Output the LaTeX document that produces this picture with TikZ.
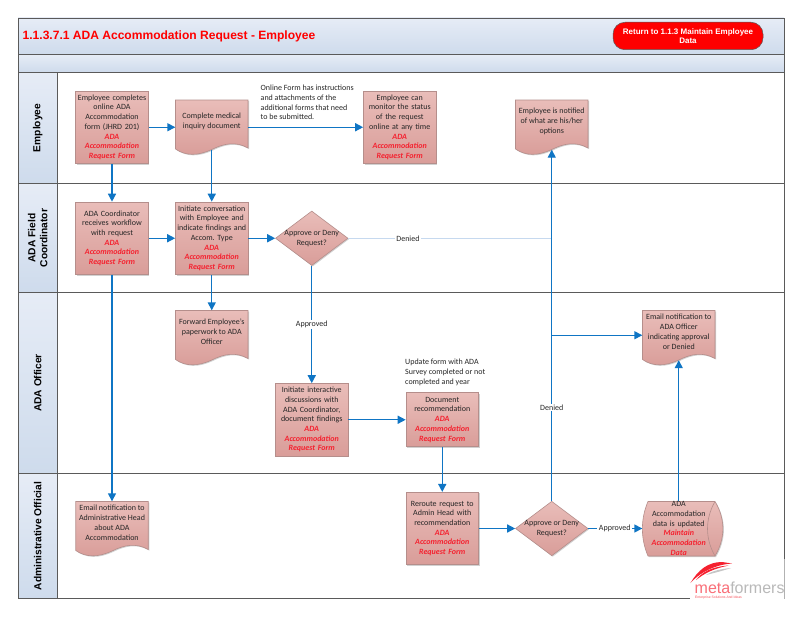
\documentclass[tikz,border=0pt]{standalone}
\usepackage{fontspec}
\setmainfont{Carlito}
\newfontfamily\headfont{Liberation Sans}
\usetikzlibrary{arrows.meta,shapes.geometric,shadows}
\frenchspacing

\definecolor{boxtop}{HTML}{E9BDB9}
\definecolor{boxbot}{HTML}{D99D99}
\definecolor{boxline}{HTML}{B58E8B}
\definecolor{flowblue}{HTML}{0F75C4}
\definecolor{paleblue}{HTML}{C6D9EF}
\definecolor{frameline}{HTML}{5A5A5A}
\definecolor{bandtop}{HTML}{E6ECF6}
\definecolor{bandbot}{HTML}{CEDBEC}
\definecolor{formred}{HTML}{F5212F}

\tikzset{
  boxshade/.style={top color=boxtop, bottom color=boxbot, draw=boxline, line width=.6pt,
    drop shadow={shadow xshift=1pt, shadow yshift=-1pt, opacity=.18, fill=black}},
  boxtext/.style={inner sep=0pt, align=center, text=black!85, font=\fontsize{8}{9.7}\selectfont},
  procbox/.style={boxshade, boxtext, text width=72.5pt, minimum height=72.5pt},
  decbox/.style={diamond, aspect=1.33, boxshade, boxtext, minimum width=72.5pt, minimum height=54.5pt},
  dochold/.style={boxtext},
  flow/.style={draw=flowblue, line width=1.4pt, -{Triangle[length=8pt,width=8pt]}},
  flowlabel/.style={boxtext, fill=white, inner xsep=1.5pt, inner ysep=1pt},
  notetext/.style={boxtext, align=left, anchor=north west},
  lanebox/.style={rotate=90, draw=frameline, line width=.9pt, top color=bandtop, bottom color=bandbot,
    minimum height=39.5pt, inner sep=0pt, align=center, font=\headfont\fontsize{10.2}{12}\selectfont\bfseries},
  laneback/.style={draw=frameline, line width=.9pt, fill=white},
  bandbox/.style={draw=frameline, line width=.9pt, top color=bandtop, bottom color=bandbot},
}

\begin{document}
\begin{tikzpicture}[x=1pt,y=-1pt]

% Parametry
\def\docw{36.25}
\def\formred#1{{\color{formred}\itshape\bfseries #1}}
\def\adaform{\formred{ADA}\\\formred{Accommodation}\\\formred{Request Form}}
% document shape: name, middle x, top y, text
\def\docnode#1#2#3#4{
  \path[boxshade] (#2-\docw,#3) -- (#2+\docw,#3) -- (#2+\docw,#3+48)
    .. controls (#2+24,#3+41) and (#2+12,#3+43.5) .. (#2,#3+49.5)
    .. controls (#2-14,#3+56) and (#2-26,#3+56) .. (#2-\docw,#3+49) -- cycle;
  \node[dochold] (#1) at (#2,#3+24.75) {\parbox[c][49.5pt][c]{72.5pt}{\centering #4\par\vspace{7pt}}};
}

\useasboundingbox (0,0) rectangle (800,618);

% ---------- Title bands ----------
\path[bandbox] (18,18) rectangle (784,54.5);
\path[bandbox] (18,54.5) rectangle (784,72.5);
\node[inner sep=0pt, anchor=west, text=red, font=\headfont\fontsize{12.05}{15}\selectfont\bfseries] (title) at (22.5,36)
  {1.1.3.7.1 ADA Accommodation Request - Employee};
\node[rounded corners=12pt, draw=frameline, line width=.5pt, fill=red, text=white, inner sep=0pt, align=center,
  minimum width=150pt, minimum height=27.5pt, font=\headfont\fontsize{8}{9.7}\selectfont\bfseries] (back) at (688,36)
  {Return to 1.1.3 Maintain Employee\\Data};

% ---------- Lanes ----------
\path[laneback] (57.5,72.5) rectangle (784,183.5);
\path[laneback] (57.5,183.5) rectangle (784,292.5);
\path[laneback] (57.5,292.5) rectangle (784,473.5);
\path[laneback] (57.5,473.5) rectangle (784,598.5);
\node[lanebox, minimum width=111pt] (laneemp) at (37.75,128) {Employee};
\node[lanebox, minimum width=109pt] (lanefield) at (37.75,238) {ADA Field\\Coordinator};
\node[lanebox, minimum width=181pt] (laneofficer) at (37.75,383) {ADA Officer};
\node[lanebox, minimum width=125pt] (laneadmin) at (37.75,536) {Administrative Official};

% ---------- Employee ----------
\node[procbox] (empform) at (112,127.25) {Employee completes\\online ADA\\Accommodation\\form (JHRD 201)\\\adaform};
\docnode{medical}{211.75}{100}{Complete medical\\inquiry document}
\node[procbox] (monitor) at (399.75,127.25) {Employee can\\monitor the status\\of the request\\online at any time\\\adaform};
\docnode{notified}{551.75}{100}{Employee is notified\\of what are his/her\\options}
\node[notetext] (onlinenote) at (260.5,85) {Online Form has instructions\\and attachments of the\\additional forms that need\\to be submitted.};

% ---------- ADA Field Coordinator ----------
\node[procbox] (workflow) at (112,238.25) {ADA Coordinator\\receives workflow\\with request\\\adaform};
\node[procbox] (initiate) at (211.75,238.25) {Initiate conversation\\with Employee and\\indicate findings and\\Accom. Type\\\adaform};
\node[decbox] (decfield) at (311.75,238.25) {\makebox[45pt]{Approve or Deny}\\Request?};

% ---------- ADA Officer ----------
\docnode{forward}{211.75}{310.5}{Forward Employee's\\paperwork to ADA\\Officer}
\docnode{emailofficer}{678.75}{310.5}{Email notification to\\ADA Officer\\indicating approval\\or Denied}
\node[procbox] (discuss) at (311.75,419.75) {Initiate interactive\\discussions with\\ADA Coordinator,\\document findings\\\adaform};
\node[procbox, minimum height=54pt] (recommend) at (442.25,419.75) {Document\\recommendation\\\adaform};
\node[notetext] (surveynote) at (405,359) {Update form with ADA\\Survey completed or not\\completed and year};

% ---------- Administrative Official ----------
\docnode{emailadmin}{112}{501.5}{Email notification to\\Administrative Head\\about ADA\\Accommodation}
\node[procbox] (reroute) at (442.25,528.5) {Reroute request to\\Admin Head with\\recommendation\\\adaform};
\node[decbox] (decadmin) at (551.75,528.5) {\makebox[45pt]{Approve or Deny}\\Request?};
\path[boxshade] (648,501.5) -- (715,501.5) .. controls (725.5,519) and (725.5,538.5) .. (715,556)
  -- (648,556) .. controls (640.5,538.5) and (640.5,519) .. (648,501.5) -- cycle;
\draw[boxline, line width=.6pt] (715,501.5) .. controls (705,519) and (705,538.5) .. (715,556);
\node[boxtext, text width=72.5pt] (accomdata) at (678.75,528.5) {ADA\\Accommodation\\data is updated\\\formred{Maintain}\\\formred{Accommodation}\\\formred{Data}};

% ---------- Connectors ----------
\coordinate (denyjoin) at (notified.south |- decfield.east);
\coordinate (mailjoin) at (notified.south |- emailofficer.west);
\draw[paleblue, line width=1pt] (decfield.east) -- node[flowlabel, pos=.293] (deniedfield) {Denied} (denyjoin);
\draw[flow] (empform) -- (empform -| medical.west);
\draw[flow] (monitor -| medical.east) -- (monitor);
\draw[flow] (empform) -- (workflow);
\draw[flow] (medical) -- (initiate);
\draw[flow] (workflow) -- (initiate);
\draw[flow] (initiate) -- (decfield);
\draw[flow] (initiate) -- (forward);
\draw[flow] (workflow) -- (emailadmin);
\draw[flow] (decfield) -- node[flowlabel, pos=.5] (approvedfield) {Approved} (discuss);
\draw[flow] (discuss) -- (recommend);
\draw[flow] (recommend) -- (reroute);
\draw[flow] (reroute) -- (decadmin);
\draw[flow] (decadmin) -- node[flowlabel, pos=.266] (deniedadmin) {Denied} (notified);
\draw[flow] (mailjoin) -- (emailofficer);
\draw[flow] (decadmin) -- node[flowlabel, pos=.49] (approvedadmin) {Approved} (accomdata.west);
\draw[flow] (accomdata) -- (emailofficer);

% ---------- Logo ----------
\fill[white] (690,559) rectangle (783.5,600);
\draw[gray!60, line width=.6pt] (784,559) -- (784,598.5);
\fill[formred] (690.5,583) .. controls (698,570) and (708,562) .. (722,562) -- (732,563.5)
  .. controls (720,564) and (702,570) .. (690.5,583);
\fill[formred] (696,580) .. controls (702,572) and (712,566.5) .. (729,565.5)
  .. controls (716,568) and (706,572) .. (696,580);
\fill[gray!45] (706,575) .. controls (712,571) and (720,569) .. (731,568) .. controls (722,571) and (714,573) .. (706,575);
\node[inner sep=0pt, anchor=base west, font=\headfont\fontsize{16}{16}\selectfont] (logo) at (694.5,593)
  {\color{formred!65}meta\color{gray!55}formers};
\node[inner sep=0pt, anchor=north west, text=formred!80, font=\headfont\fontsize{3.4}{4}\selectfont] (tagline) at (695,596)
  {Enterprise Solutions And Ideas};

\end{tikzpicture}
\end{document}
